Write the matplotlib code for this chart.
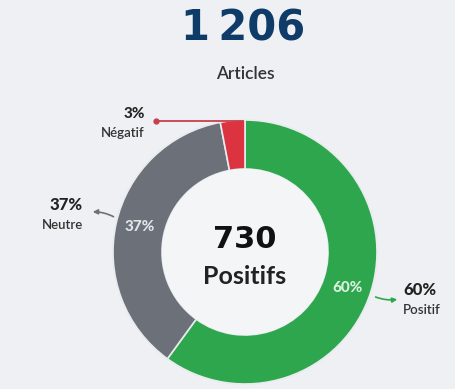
import matplotlib.pyplot as plt
from matplotlib.patches import Circle

# Répartition des articles par tonalité
total_articles = 1206
positifs = 730
categories = ['Positif', 'Neutre', 'Négatif']
parts = [60, 37, 3]
colors = ['#2ea64d', '#6b7079', '#dc3340']

W, H = 456, 389
BG = '#eef0f3'

plt.rcParams['font.family'] = ['Lato', 'DejaVu Sans']

fig = plt.figure(figsize=(W / 100, H / 100), dpi=100, facecolor=BG)
ax = fig.add_axes([0, 0, 1, 1])
ax.set_facecolor(BG)


def py(y):
    # coordonnées écran (origine en haut) -> axes
    return H - y


cx, cy = 245, py(252)
R_out, R_in = 132, 83

ax.pie(parts, colors=colors, startangle=90, counterclock=False,
       center=(cx, cy), radius=R_out, frame=True,
       wedgeprops=dict(width=R_out - R_in, edgecolor='#e8ecef', linewidth=1.2))
ax.add_patch(Circle((cx, cy), R_in, facecolor='#f4f5f7', edgecolor='none', zorder=3))
ax.set_xlim(0, W)
ax.set_ylim(0, H)
ax.set_aspect('equal')
ax.axis('off')

# titre
ax.text(243, py(28), f'{total_articles:,}'.replace(',', '\u2009'), ha='center', va='center',
        fontsize=30, fontweight='bold', color='#0f3b69', family='DejaVu Sans')
ax.text(245, py(74), 'Articles', ha='center', va='center', fontsize=12.5,
        fontweight='semibold', color='#333333')

# centre du donut
ax.text(cx, py(239), str(positifs), ha='center', va='center',
        fontsize=22, fontweight='bold', color='#111111', zorder=4, family='DejaVu Sans')
ax.text(cx, py(276), 'Positifs', ha='center', va='center',
        fontsize=18, fontweight='bold', color='#222222', zorder=4)

# pourcentages dans les segments
ax.text(140, py(227), f'{parts[1]}%', ha='center', va='center',
        fontsize=11, fontweight='black', color='#e2e4e8', zorder=4)
ax.text(348, py(288), f'{parts[0]}%', ha='center', va='center',
        fontsize=11, fontweight='black', color='#d9f0de', zorder=4)

# étiquettes extérieures
ax.text(145, py(114), f'{parts[2]}%', ha='right', va='center',
        fontsize=11, fontweight='black', color='#222222')
ax.text(145, py(133), categories[2], ha='right', va='center', fontsize=9.5,
        fontweight='semibold', color='#333333')
ax.text(83, py(205), f'{parts[1]}%', ha='right', va='center',
        fontsize=12, fontweight='black', color='#222222')
ax.text(83, py(225), categories[1], ha='right', va='center', fontsize=9.5,
        fontweight='semibold', color='#333333')
ax.text(403, py(290), f'{parts[0]}%', ha='left', va='center',
        fontsize=12, fontweight='black', color='#222222')
ax.text(403, py(310), categories[0], ha='left', va='center', fontsize=9.5,
        fontweight='semibold', color='#333333')

# flèches vers les étiquettes
ax.plot([243, 156], [py(121), py(121)], color='#c8404c', lw=1.3, zorder=5)
ax.plot([156], [py(121)], 'o', color='#c8404c', ms=3.5, zorder=5)
ax.annotate('', xy=(90, py(212)), xytext=(116, py(218)),
            arrowprops=dict(arrowstyle='-|>', color='#6b7079', lw=1.2,
                            mutation_scale=7, connectionstyle='arc3,rad=0.15'))
ax.annotate('', xy=(400, py(299)), xytext=(373, py(296)),
            arrowprops=dict(arrowstyle='-|>', color='#2ea64d', lw=1.2,
                            mutation_scale=7, connectionstyle='arc3,rad=0.15'))

fig.savefig('out.png', dpi=100, facecolor=BG)
